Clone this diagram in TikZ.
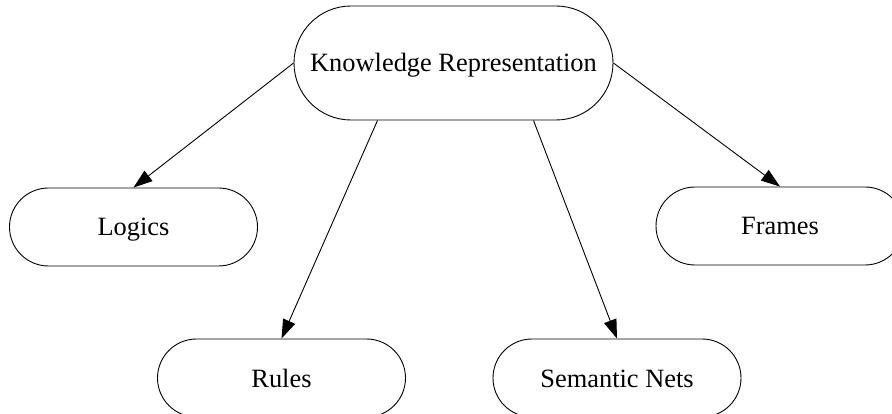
\documentclass[tikz,border=0pt]{standalone}
\usepackage{fontspec}
\setmainfont{Liberation Serif}
\usetikzlibrary{arrows.meta,calc}
\tikzset{
  box/.style={draw=black, line width=0.9pt, fill=white, inner sep=0pt,
    minimum width=248pt, minimum height=78pt, rounded corners=39pt,
    text height=22pt, text depth=4pt,
    font=\fontsize{26.4}{30}\selectfont},
  bigbox/.style={box, minimum width=319pt, minimum height=114pt, rounded corners=57pt},
  arr/.style={draw=black, line width=0.9pt, -{Triangle[length=19pt,width=13pt]}}
}
\begin{document}
\begin{tikzpicture}[x=1pt,y=-1pt]
\useasboundingbox (0,0) rectangle (892,414);
\clip (0,0) rectangle (892,414);
\node[bigbox] (kr) at (453.5,63) {Knowledge Representation};
\node[box] (lo) at (133.5,227) {Logics};
\node[box] (fr) at (780,226) {Frames};
\node[box] (ru) at (281.5,378) {Rules};
\node[box] (sn) at (617,378) {Semantic Nets};
\draw[arr] (kr.west) -- (lo.north);
\draw[arr] (kr.east) -- (fr.north);
\draw[arr] ($(kr.south)+(-76,0)$) -- (ru.north);
\draw[arr] ($(kr.south)+(80,0)$) -- (sn.north);
\end{tikzpicture}
\end{document}
